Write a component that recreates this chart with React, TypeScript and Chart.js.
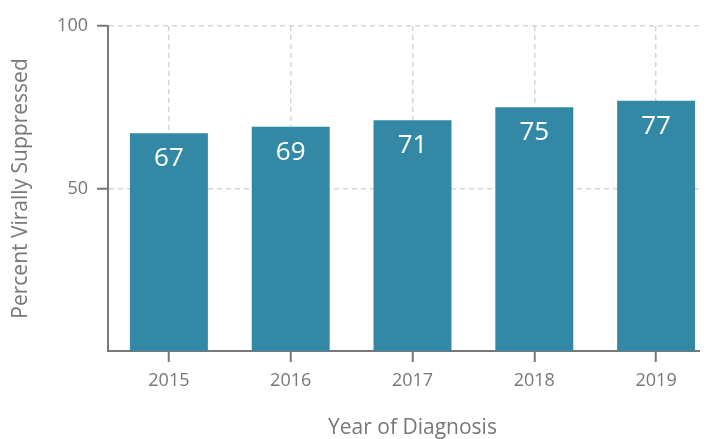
import React, { useEffect, useRef } from "react";
import { Chart, registerables } from "chart.js";

Chart.register(...registerables);

const categories = ["2015", "2016", "2017", "2018", "2019"];
const values = [67, 69, 71, 75, 77];
const yTickValues = [50, 100];
const xTitle = "Year of Diagnosis";
const yTitle = "Percent Virally Suppressed";

const FONT = "'Open Sans', sans-serif";
const GRAY = "#777777";
const GRID = "#d6d6d6";
const BAR = "#3389a5";

const labelPlugin = {
  id: "barLabels",
  afterDatasetsDraw(chart: any) {
    const ctx = chart.ctx;
    const meta = chart.getDatasetMeta(0);
    ctx.save();
    ctx.fillStyle = "#ffffff";
    ctx.font = `26px ${FONT}`;
    ctx.textAlign = "center";
    ctx.textBaseline = "alphabetic";
    meta.data.forEach((el: any, i: number) => {
      ctx.fillText(String(values[i]), el.x, el.y + 33);
    });
    ctx.restore();
  },
};

export default function App() {
  const ref = useRef<HTMLCanvasElement | null>(null);
  useEffect(() => {
    if (!ref.current) return;
    const chart = new Chart(ref.current, {
      type: "bar",
      data: {
        labels: categories,
        datasets: [
          {
            data: values,
            backgroundColor: BAR,
            barPercentage: 0.64,
            categoryPercentage: 1,
          },
        ],
      },
      options: {
        responsive: false,
        animation: false,
        layout: { padding: { left: 0, top: 18, right: 11, bottom: 0 } },
        plugins: { legend: { display: false }, tooltip: { enabled: false } },
        scales: {
          x: {
            afterFit: (s: any) => {
              s.height = 107;
              s.paddingLeft = 0;
              s.paddingRight = 0;
            },
            grid: {
              display: true,
              offset: false,
              color: GRID,
              lineWidth: 1.5,
              drawOnChartArea: true,
              drawTicks: true,
              tickLength: 11,
              tickColor: GRAY,
              tickWidth: 2,
            },
            border: { display: true, color: GRAY, width: 2, dash: [5, 4] },
            ticks: {
              color: GRAY,
              font: { family: FONT, size: 18 },
              padding: 8,
              maxRotation: 0,
            },
            title: {
              display: true,
              text: xTitle,
              color: GRAY,
              font: { family: FONT, size: 21 },
              padding: { top: 4, bottom: 17 },
            },
          },
          y: {
            min: 0,
            max: 100,
            afterFit: (s: any) => {
              s.width = 100;
              s.paddingTop = 0;
              s.paddingBottom = 0;
            },
            afterBuildTicks: (s: any) => {
              s.ticks = yTickValues.map((v) => ({ value: v }));
            },
            grid: {
              display: true,
              color: GRID,
              lineWidth: 1.5,
              drawTicks: true,
              tickLength: 11,
              tickColor: GRAY,
              tickWidth: 2,
            },
            border: { display: true, color: GRAY, width: 2, dash: [5, 4] },
            ticks: {
              color: GRAY,
              font: { family: FONT, size: 18 },
              padding: 9,
              stepSize: 50,
            },
            title: {
              display: true,
              text: yTitle,
              color: GRAY,
              font: { family: FONT, size: 21 },
              padding: { top: 0, bottom: 0 },
            },
          },
        },
      },
      plugins: [labelPlugin],
    });
    return () => chart.destroy();
  }, []);
  return (
    <div style={{ width: 700, height: 431, overflow: "hidden", position: "relative" }}>
      <canvas
        ref={ref}
        width={720}
        height={450}
        style={{ position: "absolute", left: 0, top: 0, width: 720, height: 450 }}
      />
    </div>
  );
}
